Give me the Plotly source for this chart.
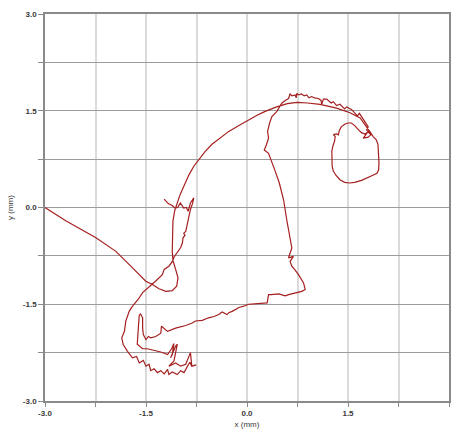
import plotly.graph_objects as go

# Pen trajectory, recorded in stroke order (x, y in mm).
# Stroke 1: entry from the left edge, small loop, then the long arc to the upper right.
arc_x = [-3.0, -2.686, -2.243, -1.947, -1.70, -1.503, -1.405, -1.306, -1.207, -1.11,
         -1.044, -1.025, -1.06, -1.10, -1.11, -1.11, -1.10, -1.074, -1.035, -1.0,
         -0.96, -0.91, -0.86, -0.79, -0.715, -0.62, -0.52, -0.39, -0.27, -0.12,
         0.025, 0.15, 0.27, 0.44, 0.60, 0.74, 0.90, 1.085, 1.33, 1.53,
         1.68, 1.775, 1.835]
arc_y = [0.0, -0.21, -0.47, -0.68, -0.937, -1.144, -1.195, -1.26, -1.30, -1.29,
         -1.22, -1.09, -0.96, -0.82, -0.68, -0.42, -0.215, -0.05, 0.08, 0.18,
         0.28, 0.41, 0.51, 0.64, 0.74, 0.87, 0.98, 1.08, 1.18, 1.27,
         1.36, 1.43, 1.49, 1.56, 1.61, 1.63, 1.62, 1.60, 1.54, 1.47,
         1.39, 1.26, 1.16]

# Stroke 2: closed loop on the right.
loop_x = [1.874, 1.92, 1.945, 1.955, 1.96, 1.955, 1.93, 1.87, 1.78, 1.70,
          1.60, 1.52, 1.45, 1.38, 1.32, 1.28, 1.265, 1.26, 1.26, 1.275,
          1.30, 1.31, 1.283, 1.33, 1.357, 1.37, 1.40, 1.45, 1.50, 1.55,
          1.60, 1.65, 1.70, 1.75, 1.80, 1.84, 1.80, 1.727, 1.80, 1.85]
loop_y = [1.10, 1.05, 0.98, 0.84, 0.70, 0.58, 0.53, 0.50, 0.46, 0.42,
          0.39, 0.38, 0.39, 0.43, 0.50, 0.57, 0.64, 0.75, 0.87, 0.95,
          1.03, 1.10, 1.13, 1.14, 1.126, 1.19, 1.25, 1.29, 1.31, 1.31,
          1.27, 1.21, 1.16, 1.14, 1.17, 1.13, 1.09, 1.075, 1.18, 1.126]

# Stroke 3: jittery return along the top of the arc.
top_x = [1.775, 1.80, 1.75, 1.72, 1.70, 1.67, 1.64, 1.60, 1.58, 1.55, 1.48, 1.45,
         1.38, 1.33, 1.283, 1.25, 1.183, 1.135, 1.11, 1.10, 1.06, 1.00, 0.96, 0.92,
         0.887, 0.85, 0.81, 0.765, 0.74, 0.73, 0.716, 0.667, 0.64, 0.617, 0.568,
         0.52, 0.494]
top_y = [1.203, 1.25, 1.33, 1.37, 1.41, 1.46, 1.42, 1.47, 1.49, 1.52, 1.56, 1.53,
         1.60, 1.58, 1.64, 1.62, 1.68, 1.68, 1.60, 1.66, 1.69, 1.70, 1.72, 1.70,
         1.746, 1.73, 1.76, 1.746, 1.77, 1.70, 1.746, 1.73, 1.76, 1.69, 1.66,
         1.62, 1.58]

# Stroke 4: descent on the right side and the lower edge back to the left.
side_x = [0.444, 0.37, 0.336, 0.306, 0.32, 0.287, 0.257, 0.32, 0.37, 0.42,
          0.48, 0.543, 0.59, 0.64, 0.666, 0.617, 0.69, 0.64, 0.666, 0.706,
          0.765, 0.84, 0.864, 0.815, 0.716, 0.617, 0.568, 0.47, 0.36, 0.32,
          0.30, 0.17, 0.025, -0.05, -0.12, -0.22, -0.27, -0.296, -0.37, -0.42,
          -0.49, -0.57, -0.665, -0.765, -0.815]
side_y = [1.49, 1.41, 1.31, 1.18, 1.075, 0.97, 0.89, 0.84, 0.71, 0.56,
          0.38, 0.12, -0.19, -0.50, -0.627, -0.78, -0.757, -0.835, -0.91, -0.96,
          -1.04, -1.17, -1.27, -1.30, -1.32, -1.35, -1.37, -1.34, -1.35, -1.35,
          -1.48, -1.49, -1.50, -1.53, -1.55, -1.61, -1.63, -1.66, -1.62, -1.66,
          -1.69, -1.71, -1.75, -1.76, -1.79]

# Stroke 5: scribble in the lower left.
scrib_x = [-0.91, -1.06, -1.18, -1.23, -1.27, -1.28, -1.355, -1.43, -1.465, -1.50,
           -1.54, -1.55, -1.55, -1.58, -1.60, -1.61, -1.62, -1.63, -1.55, -1.48,
           -1.405, -1.28, -1.18, -1.12, -1.085, -1.11, -1.135, -1.06, -1.035, -1.085,
           -1.16, -1.06, -0.985, -0.91, -0.84, -0.82, -0.755, -0.82, -0.85, -0.936,
           -0.985, -1.035, -1.11, -1.16, -1.18, -1.23, -1.28, -1.33, -1.38, -1.43,
           -1.455, -1.50, -1.54, -1.60, -1.64, -1.70]
scrib_y = [-1.83, -1.87, -1.92, -1.87, -1.84, -1.95, -2.0, -2.02, -2.0, -2.05,
           -1.97, -1.87, -1.71, -1.65, -1.67, -1.81, -2.02, -2.12, -2.19, -2.19,
           -2.21, -2.24, -2.28, -2.19, -2.11, -2.28, -2.33, -2.15, -2.12, -2.38,
           -2.46, -2.41, -2.46, -2.43, -2.25, -2.46, -2.44, -2.46, -2.40, -2.56,
           -2.53, -2.59, -2.55, -2.59, -2.51, -2.58, -2.53, -2.56, -2.50, -2.53,
           -2.43, -2.46, -2.37, -2.41, -2.31, -2.33]

# Stroke 6: back up the left side and the zigzag ending near y = 0.
rise_x = [-1.775, -1.84, -1.86, -1.82, -1.80, -1.75, -1.70, -1.62, -1.55, -1.45,
          -1.355, -1.257, -1.23, -1.16, -1.11, -1.085, -1.035, -0.985, -0.96, -0.95,
          -0.92, -0.94, -0.91, -0.89, -0.86, -0.84, -0.81, -0.79, -0.84, -0.875,
          -0.90, -0.94, -0.99, -1.03, -1.07, -1.11, -1.17, -1.23]
rise_y = [-2.23, -2.12, -2.02, -1.92, -1.76, -1.61, -1.53, -1.43, -1.32, -1.23,
          -1.14, -1.04, -0.96, -0.91, -0.84, -0.77, -0.70, -0.62, -0.55, -0.47,
          -0.43, -0.40, -0.37, -0.26, -0.14, -0.03, 0.06, 0.15, 0.07, -0.06,
          0.0, -0.01, 0.07, 0.0, -0.01, 0.03, 0.06, 0.13]

path_x = arc_x + loop_x + top_x + side_x + scrib_x + rise_x
path_y = arc_y + loop_y + top_y + side_y + scrib_y + rise_y

tick_vals = [-3.0, -2.25, -1.5, -0.75, 0.0, 0.75, 1.5, 2.25, 3.0]
tick_text = ["<b>-3.0</b>", "", "<b>-1.5</b>", "", "<b>0.0</b>", "",
             "<b>1.5</b>", "", "<b>3.0</b>"]

fig = go.Figure(
    go.Scatter(
        x=path_x, y=path_y, mode="lines",
        line=dict(color="#a51f1f", width=1.2),
        hoverinfo="skip", showlegend=False,
    )
)

font = dict(family="Liberation Sans, Arial, sans-serif", size=8, color="#3a3a3a")

fig.update_layout(
    width=455, height=432,
    margin=dict(l=45, r=4, t=14, b=30),
    paper_bgcolor="white", plot_bgcolor="white",
    font=font,
)

fig.update_xaxes(
    range=[-3, 3], tickvals=tick_vals, ticktext=tick_text,
    showgrid=True, gridcolor="#dadada", gridwidth=1.5,
    showline=True, linecolor="#8a8a8a", linewidth=1.5, mirror=True,
    ticks="outside", ticklen=4, tickcolor="#8a8a8a",
    zeroline=False,
    title=dict(text="x (mm)", font=font, standoff=4),
)
fig.update_yaxes(
    range=[-3, 3], tickvals=tick_vals, ticktext=tick_text,
    showgrid=True, gridcolor="#9c9c9c", gridwidth=1,
    showline=True, linecolor="#8a8a8a", linewidth=1.5, mirror=True,
    ticks="outside", ticklen=5, tickcolor="#8a8a8a",
    zeroline=False,
    title=dict(text="y (mm)", font=font, standoff=8),
)

fig.write_html("out.html")
